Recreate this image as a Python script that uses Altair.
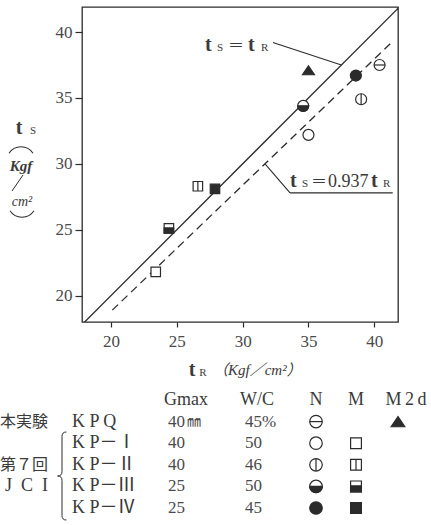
import altair as alt
import pandas as pd

# ---------------- data ----------------
series = ["KPQ N", "KPQ M2d", "KP-I N", "KP-I M", "KP-II N", "KP-II M",
          "KP-III N", "KP-III M", "KP-IV N", "KP-IV M"]
t_r = [40.4, 35.0, 35.0, 23.4, 39.0, 26.6, 34.6, 24.4, 38.6, 27.9]
t_s = [37.5, 37.1, 32.2, 21.8, 34.9, 28.3, 34.4, 25.1, 36.7, 28.1]

eq_tr = [17.8, 41.9]          # t_S = t_R
eq_ts = [17.8, 41.9]
fit_tr = [20.1, 41.3]         # t_S = 0.937 t_R (as drawn)
fit_ts = [18.9, 39.2]

x_ticks = [20, 25, 30, 35, 40]
y_ticks = [20, 25, 30, 35, 40]

leg_keys = ["hdr", "KPQ", "KP-I", "KP-II", "KP-III", "KP-IV"]
leg_names = ["K P Q", "K P－Ⅰ", "K P－Ⅱ", "K P－Ⅲ", "K P－Ⅳ"]
leg_gmax = ["40", "40", "40", "25", "25"]
leg_wc = ["45%", "50", "46", "50", "45"]
leg_N = ["KPQ N", "KP-I N", "KP-II N", "KP-III N", "KP-IV N"]
leg_M = ["", "KP-I M", "KP-II M", "KP-III M", "KP-IV M"]
leg_M2d = ["KPQ M2d", "", "", "", ""]
leg_groups = ["本実験", "第７回", "J\u2002C\u2002I"]
leg_group_rows = ["KPQ", "KP-II", "KP-III"]
leg_headers = ["Gmax", "W/C", "N", "M", "M\u20092\u2009d"]

# ---------------- styles ----------------
SERIF = "Liberation Serif, Noto Sans CJK JP"
CJK = "Noto Sans CJK JP"
INK = "#2b2b2b"
TXT = "#3a3a3a"
LIGHT = "#4a4a4a"

RING, SQ = "circle", "square"
HLINE = "M-1,0L1,0"
VLINE = "M0,-1L0,1"
LOWER_DISC = "M-1,0A1,1,0,0,0,1,0Z"
LOWER_SQ = "M-1,-0.1L1,-0.1L1,1L-1,1Z"
TRI = "M0,-0.75L1,0.75L-1,0.75Z"
BRACE = "M0.1,-1Q0,-1 0,-0.9L0,-0.1Q0,0 -0.1,0Q0,0 0,0.1L0,0.9Q0,1 0.1,1"
ARC_TOP = "M-1,0.27A1.2,1.2,0,0,1,1,0.27"
ARC_BOT = "M-1,-0.27A1.2,1.2,0,0,0,1,-0.27"

GLYPH = {
    "KPQ N": [(RING, "white"), (HLINE, "transparent")],
    "KPQ M2d": [(TRI, INK)],
    "KP-I N": [(RING, "white")],
    "KP-I M": [(SQ, "white")],
    "KP-II N": [(RING, "white"), (VLINE, "transparent")],
    "KP-II M": [(SQ, "white"), (VLINE, "transparent")],
    "KP-III N": [(RING, "white"), (LOWER_DISC, INK)],
    "KP-III M": [(SQ, "white"), (LOWER_SQ, INK)],
    "KP-IV N": [(RING, INK)],
    "KP-IV M": [(SQ, INK)],
}
KIND_SIZE = {"N": 121, "M": 90, "M2d": 144}


def glyph_rows(keys, extras, scale=1.0):
    rows = []
    for k, extra in zip(keys, extras):
        if not k:
            continue
        kind = k.split(" ")[1]
        for shape, fill in GLYPH[k]:
            r = dict(extra)
            r.update(shape=shape, fill=fill, size=KIND_SIZE[kind] * scale)
            rows.append(r)
    return pd.DataFrame(rows)


xs = alt.Scale(domain=[17.8, 41.8], nice=False, zero=False)
ys = alt.Scale(domain=[18.0, 41.9], nice=False, zero=False)
xa = alt.Axis(values=x_ticks, title=None, format="d", tickSize=5, labelPadding=6)
ya = alt.Axis(values=y_ticks, title=None, format="d", tickSize=7, labelPadding=3)


def X(f):
    return alt.X(f, type="quantitative", scale=xs, axis=xa)


def Y(f):
    return alt.Y(f, type="quantitative", scale=ys, axis=ya)


one = pd.DataFrame({"k": [0]})

# ---------------- main plot ----------------
solid = alt.Chart(pd.DataFrame({"tr": eq_tr, "ts": eq_ts})).mark_line(
    color=INK, strokeWidth=1.3, clip=True).encode(x=X("tr"), y=Y("ts"))
dashed = alt.Chart(pd.DataFrame({"tr": fit_tr, "ts": fit_ts})).mark_line(
    color=INK, strokeWidth=1.3, strokeDash=[8, 5]).encode(x=X("tr"), y=Y("ts"))

lead_df = pd.DataFrame({"x": [32.3, 33.6, 33.6], "y": [39.2, 27.8, 27.8],
                        "x2": [37.5, 31.7, 41.4], "y2": [37.5, 30.0, 27.8]})
leaders = alt.Chart(lead_df).mark_rule(color=INK, strokeWidth=1.1).encode(
    x=X("x"), y=Y("y"), x2="x2:Q", y2="y2:Q")

pts_df = glyph_rows(series, [{"tr": a, "ts": b} for a, b in zip(t_r, t_s)])
points = alt.Chart(pts_df).mark_point(
    filled=True, opacity=1, stroke=INK, strokeWidth=1.2).encode(
    x=X("tr"), y=Y("ts"),
    shape=alt.Shape("shape:N", scale=None),
    fill=alt.Fill("fill:N", scale=None),
    size=alt.Size("size:Q", scale=None))


def atext(s, ax, ay, dx, size, font=SERIF, weight="normal", dy=0):
    return alt.Chart(pd.DataFrame({"x": [ax], "y": [ay], "t": [s]})).mark_text(
        align="left", baseline="alphabetic", dx=dx, dy=dy, font=font,
        fontSize=size, fontWeight=weight, color=TXT).encode(
        x=X("x"), y=Y("y"), text="t:N")


A1 = (27.14, 38.56)
A2 = (33.6, 28.27)
ann = [
    atext("t", *A1, 0, 20, weight="bold"),
    atext("S", *A1, 12, 11),
    atext("＝", *A1, 23, 16, font=CJK),
    atext("t", *A1, 43, 20, weight="bold"),
    atext("R", *A1, 56, 11),
    atext("t", *A2, 0, 20, weight="bold"),
    atext("S", *A2, 12, 11),
    atext("＝", *A2, 21, 16, font=CJK),
    atext("0.937", *A2, 38, 18),
    atext("t", *A2, 81, 20, weight="bold"),
    atext("R", *A2, 93, 11),
]


def ptext(s, x, y, size, font=SERIF, align="center", weight="normal",
          style="normal", color=TXT, baseline="middle"):
    return alt.Chart(pd.DataFrame({"t": [s]})).mark_text(
        align=align, baseline=baseline, font=font, fontSize=size,
        fontWeight=weight, fontStyle=style, color=color).encode(
        x=alt.value(x), y=alt.value(y), text="t:N")


def pshape(path, x, y, size, width=1.1):
    return alt.Chart(one).mark_point(
        shape=path, size=size, filled=False, stroke=INK, strokeWidth=width,
        opacity=1).encode(x=alt.value(x), y=alt.value(y))


titles = [
    # y-axis title block
    ptext("t", -63, 121, 20, weight="bold"),
    ptext("S", -49, 124, 11),
    pshape(ARC_TOP, -61, 143, 576),
    ptext("Kgf", -61, 159, 15, style="italic", weight="bold"),
    alt.Chart(one).mark_rule(color=INK, strokeWidth=1.0).encode(
        x=alt.value(-70), y=alt.value(184), x2=alt.value(-59), y2=alt.value(168)),
    ptext("cm²", -60, 195, 14, style="italic"),
    pshape(ARC_BOT, -60, 207, 576),
    # x-axis title
    ptext("t", 110, 363, 20, weight="bold"),
    ptext("R", 121, 366, 11),
    ptext("（Kgf／cm²）", 131, 363, 15, align="left", style="italic"),
    # brace of the legend
    pshape(BRACE, -20, 469, 7744, width=1.0),
]

main = alt.layer(solid, dashed, leaders, points, *ann, *titles)

# ---------------- legend table ----------------
rows_scale = alt.Scale(domain=leg_keys, range=[393, 501], padding=0)
RY = alt.Y("row:N", scale=rows_scale, axis=None)


def col_text(values, rows, x, size, font=SERIF, align="left", color=TXT):
    df = pd.DataFrame({"row": rows, "t": values})
    return alt.Chart(df).mark_text(
        align=align, baseline="middle", font=font, fontSize=size,
        color=color).encode(x=alt.value(x), y=RY, text="t:N")


data_rows = leg_keys[1:]
HDR_X = [104, 175, 234, 274, 324]
leg_layers = [col_text([h], ["hdr"], hx, 18, align="center")
              for h, hx in zip(leg_headers, HDR_X)]
leg_layers += [
    col_text(leg_groups[:2], leg_group_rows[:2], -82, 16, font=CJK),
    col_text(leg_groups[2:], leg_group_rows[2:], -77, 18),
    col_text(leg_names, data_rows, -10, 18),
    col_text(leg_gmax, data_rows, 86, 17, color=LIGHT),
    col_text(["㎜"], ["KPQ"], 105, 14, font=CJK, color=LIGHT),
    col_text(leg_wc, data_rows, 163, 17, color=LIGHT),
]

for keys, cx in ((leg_N, 234), (leg_M, 274), (leg_M2d, 316)):
    gdf = glyph_rows(keys, [{"row": r} for r in data_rows], scale=1.3)
    leg_layers.append(
        alt.Chart(gdf).mark_point(
            filled=True, opacity=1, stroke=INK, strokeWidth=1.2).encode(
            x=alt.value(cx), y=RY,
            shape=alt.Shape("shape:N", scale=None),
            fill=alt.Fill("fill:N", scale=None),
            size=alt.Size("size:Q", scale=None)))

legend = alt.layer(*leg_layers)

chart = alt.layer(main, legend).resolve_scale(y="independent").properties(
    width=316, height=315,
    autosize=alt.AutoSizeParams(type="none"),
    padding={"left": 82, "top": 7, "right": 33, "bottom": 203},
    background="white",
).configure_view(stroke=INK, strokeWidth=1.3).configure_axis(
    domain=False, grid=False, tickColor=INK, tickWidth=1.2,
    labelFont="Liberation Serif", labelFontSize=17, labelColor=LIGHT,
)

chart.save("out.html", embed_options={"renderer": "svg", "actions": False})
